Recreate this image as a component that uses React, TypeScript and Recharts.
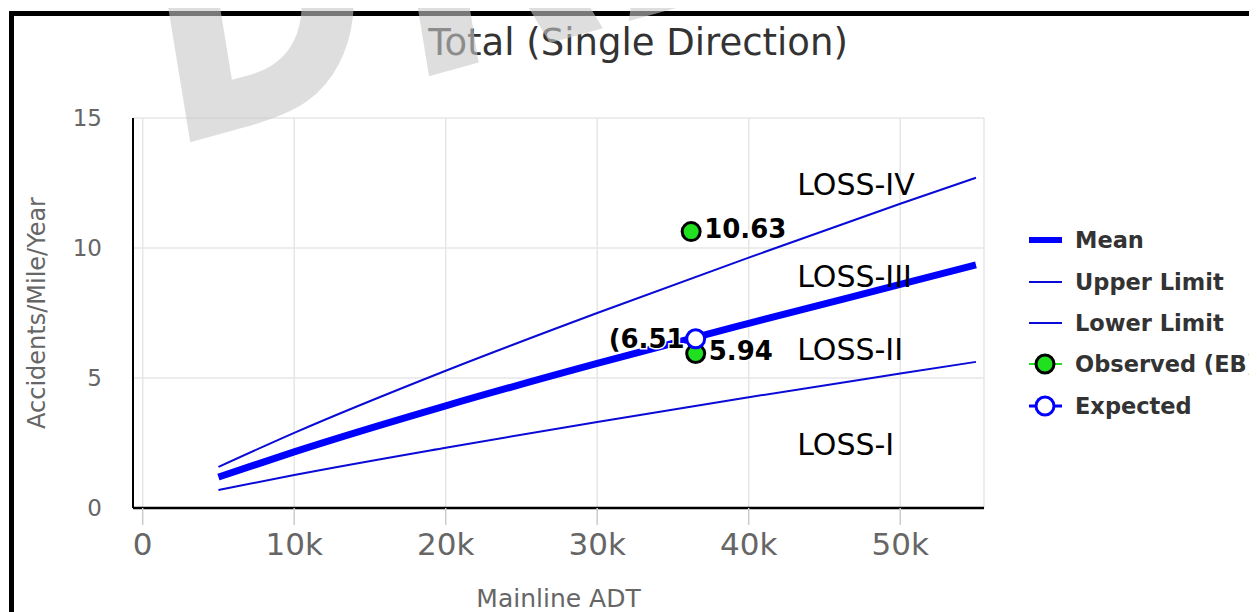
import React from 'react';
import { ComposedChart, Line, Scatter, XAxis, YAxis, CartesianGrid } from 'recharts';

// curves (ADT -> accidents/mile/year)
const adt = [5000, 10000, 20000, 30000, 40000, 50000, 55000];
const meanValues = [1.19, 2.16, 3.93, 5.56, 7.1, 8.6, 9.35];
const upperValues = [1.58, 2.89, 5.28, 7.5, 9.63, 11.7, 12.7];
const lowerValues = [0.69, 1.27, 2.32, 3.31, 4.26, 5.17, 5.62];

const observedAdt = [36200, 36500];
const observedValues = [10.63, 5.94];
const expectedAdt = [36500];
const expectedValues = [6.51];

const lossNames = ['LOSS-IV', 'LOSS-III', 'LOSS-II', 'LOSS-I'];
const lossAdt = [43200, 43200, 43200, 43200];
const lossLevels = [12.46, 8.92, 6.12, 2.46];

const xTicks = [0, 10000, 20000, 30000, 40000, 50000];
const yTicks = [0, 5, 10, 15];

const legendNames = ['Mean', 'Upper Limit', 'Lower Limit', 'Observed (EB)', 'Expected'];

const FONT = '"DejaVu Sans", sans-serif';
const BLUE = '#0000ff';
const LIMIT_BLUE = '#0a0ad8';
const GREEN = '#20e020';

const toPoints = (xs: number[], ys: number[]) => xs.map((x, i) => ({ x, y: ys[i] }));

const meanData = toPoints(adt, meanValues);
const upperData = toPoints(adt, upperValues);
const lowerData = toPoints(adt, lowerValues);
const observedData = toPoints(observedAdt, observedValues);
const expectedData = toPoints(expectedAdt, expectedValues);
const lossData = lossNames.map((name, i) => ({ x: lossAdt[i], y: lossLevels[i], name }));

const labelStyle = {
  fontFamily: FONT,
  fontSize: 26,
  fontWeight: 700,
  fill: '#000',
  stroke: '#fff',
  strokeWidth: 3,
  paintOrder: 'stroke' as const,
};

const ObservedDot = (props: any) => {
  const { cx, cy, payload } = props;
  return (
    <g>
      <circle cx={cx} cy={cy} r={9} fill={GREEN} stroke="#000" strokeWidth={3} />
      <text x={cx + 13} y={cy + 6} style={labelStyle}>
        {payload.y.toFixed(2)}
      </text>
    </g>
  );
};

const ExpectedDot = (props: any) => {
  const { cx, cy, payload } = props;
  return (
    <g>
      <text x={cx - 11} y={cy + 9} textAnchor="end" style={labelStyle}>
        {'(' + payload.y.toFixed(2)}
      </text>
      <circle cx={cx} cy={cy} r={9} fill="#fff" stroke={BLUE} strokeWidth={3} />
    </g>
  );
};

const LossText = (props: any) => {
  const { cx, cy, payload } = props;
  return (
    <text x={cx} y={cy + 11} fontFamily={FONT} fontSize={30} fill="#000">
      {payload.name}
    </text>
  );
};

const YLabel = (props: any) => {
  const { viewBox } = props;
  const cx = viewBox.x + 29;
  const cy = viewBox.y + viewBox.height / 2;
  return (
    <text x={cx} y={cy} transform={`rotate(-90 ${cx} ${cy})`} textAnchor="middle" dominantBaseline="central"
      fontFamily={FONT} fontSize={24} fill="#666">
      Accidents/Mile/Year
    </text>
  );
};

const XLabel = (props: any) => {
  const { viewBox } = props;
  return (
    <text x={viewBox.x + viewBox.width / 2} y={viewBox.y + 99} textAnchor="middle"
      fontFamily={FONT} fontSize={25} fill="#666">
      Mainline ADT
    </text>
  );
};

const LegendBox = () => {
  const rowY = [22, 64, 105, 146, 188];
  return (
    <svg width={237} height={210} style={{ position: 'absolute', left: 1012, top: 210 }}>
      {legendNames.map((name, i) => {
        const y = rowY[i];
        let symbol: React.ReactNode = null;
        if (i === 0) symbol = <line x1={9} x2={42} y1={y} y2={y} stroke={BLUE} strokeWidth={6} />;
        else if (i === 1 || i === 2) symbol = <line x1={9} x2={42} y1={y} y2={y} stroke={LIMIT_BLUE} strokeWidth={2} />;
        else if (i === 3)
          symbol = (
            <g>
              <line x1={9} x2={42} y1={y} y2={y} stroke={GREEN} strokeWidth={2} />
              <circle cx={25} cy={y} r={9} fill={GREEN} stroke="#000" strokeWidth={3} />
            </g>
          );
        else
          symbol = (
            <g>
              <line x1={9} x2={42} y1={y} y2={y} stroke={BLUE} strokeWidth={3} />
              <circle cx={25} cy={y} r={9} fill="#fff" stroke={BLUE} strokeWidth={3} />
            </g>
          );
        return (
          <g key={name}>
            {symbol}
            <text x={55} y={y + 8} fontFamily={FONT} fontSize={22.5} fontWeight={700} fill="#333">
              {name}
            </text>
          </g>
        );
      })}
    </svg>
  );
};

export default function App() {
  return (
    <div style={{ position: 'relative', width: 1249, height: 604, overflow: 'hidden', background: '#fff' }}>
      <div
        style={{
          position: 'absolute', left: 1, top: 3, width: 1400, height: 800,
          borderTop: '5px solid #000', borderLeft: '5px solid #000',
        }}
      />
      <ComposedChart width={1249} height={604} margin={{ top: 110, right: 273, bottom: 0, left: 0 }}
        style={{ position: 'absolute', left: 0, top: 0 }}>
        <CartesianGrid stroke="#e6e6e6" strokeWidth={1.5} />
        <XAxis
          type="number"
          dataKey="x"
          domain={[-640, 55530]}
          allowDataOverflow
          ticks={xTicks}
          height={104}
          tickFormatter={(v: number) => (v === 0 ? '0' : `${v / 1000}k`)}
          tick={{ fill: '#666', fontSize: 31, fontFamily: FONT }}
          tickLine={{ stroke: '#ccc', strokeWidth: 1.5 }}
          tickSize={17}
          tickMargin={8}
          axisLine={{ stroke: '#000', strokeWidth: 2.5 }}
          label={<XLabel />}
        />
        <YAxis
          type="number"
          domain={[0, 15]}
          allowDataOverflow
          ticks={yTicks}
          width={125}
          tick={{ fill: '#666', fontSize: 23, fontFamily: FONT }}
          tickLine={false}
          tickSize={6}
          tickMargin={25}
          axisLine={{ stroke: '#000', strokeWidth: 2 }}
          label={<YLabel />}
        />
        <Line type="monotone" data={upperData} dataKey="y" name="Upper Limit" stroke={LIMIT_BLUE} strokeWidth={2} dot={false} isAnimationActive={false} />
        <Line type="monotone" data={lowerData} dataKey="y" name="Lower Limit" stroke={LIMIT_BLUE} strokeWidth={2} dot={false} isAnimationActive={false} />
        <Line type="monotone" data={meanData} dataKey="y" name="Mean" stroke={BLUE} strokeWidth={7} dot={false} isAnimationActive={false} />
        <Scatter data={lossData} dataKey="y" name="LOSS" shape={<LossText />} isAnimationActive={false} />
        <Scatter data={observedData} dataKey="y" name="Observed (EB)" shape={<ObservedDot />} isAnimationActive={false} />
        <Scatter data={expectedData} dataKey="y" name="Expected" shape={<ExpectedDot />} isAnimationActive={false} />
      </ComposedChart>
      <LegendBox />
      <svg width={1249} height={604} style={{ position: 'absolute', left: 0, top: 0, pointerEvents: 'none' }}>
        <text x={630} y={47} textAnchor="middle" fontFamily={FONT} fontSize={37} fill="#333">
          Total (Single Direction)
        </text>
        <text x={0} y={0} transform="translate(158 141) scale(1 1.3) rotate(-12)" fontFamily={FONT} fontSize={270}
          fontWeight={700} letterSpacing={20} fill="rgba(200,200,200,0.6)">
          DRAFT
        </text>
      </svg>
    </div>
  );
}
